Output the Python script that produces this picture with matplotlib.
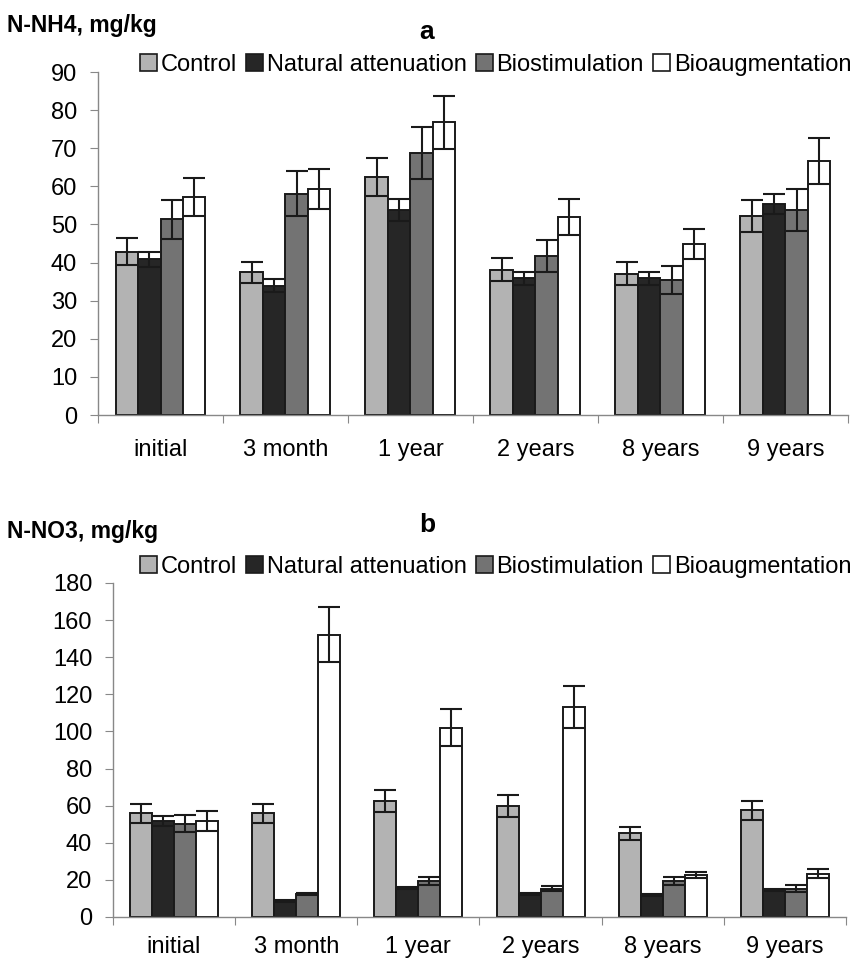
import matplotlib.pyplot as plt
import numpy as np
from matplotlib.patches import Patch

plt.rcParams['font.family'] = ['Liberation Sans', 'DejaVu Sans']

periods = ['initial', '3 month', '1 year', '2 years', '8 years', '9 years']
treatments = ['Control', 'Natural attenuation', 'Biostimulation', 'Bioaugmentation']
colors = ['#b3b3b3', '#262626', '#737373', '#ffffff']

# N-NH4 means and errors, one row per treatment
nh4 = [
    [42.9, 37.4, 62.4, 38.1, 37.1, 52.2],
    [40.9, 33.9, 53.8, 35.9, 35.9, 55.4],
    [51.4, 58.1, 68.8, 41.7, 35.4, 53.8],
    [57.3, 59.3, 76.8, 51.9, 44.8, 66.7],
]
nh4_err = [
    [3.5, 2.8, 5.0, 3.0, 3.0, 4.3],
    [2.0, 1.7, 2.8, 1.7, 1.7, 2.7],
    [5.1, 5.8, 6.8, 4.1, 3.6, 5.5],
    [5.0, 5.3, 7.0, 4.7, 3.9, 6.0],
]

# N-NO3 means and errors
no3 = [
    [55.8, 55.8, 62.5, 59.8, 45.1, 57.4],
    [51.7, 8.6, 15.6, 12.6, 11.8, 14.3],
    [50.3, 12.4, 19.4, 15.3, 19.4, 15.3],
    [51.7, 152.2, 101.9, 113.2, 22.6, 23.3],
]
no3_err = [
    [4.9, 4.9, 5.7, 5.7, 3.4, 5.2],
    [2.7, 0.5, 0.8, 0.5, 0.5, 0.5],
    [4.5, 0.7, 2.0, 1.3, 2.0, 1.7],
    [5.4, 15.0, 10.0, 11.3, 1.8, 2.5],
]

fig = plt.figure(figsize=(8.59, 9.64), dpi=100)


def draw_panel(rect, vals, errs, ymax, ystep, ylabel, letter, label_y, letter_y, leg_y, xpad):
    ax = fig.add_axes(rect)
    x = np.arange(len(periods))
    w = 0.18
    for i in range(len(treatments)):
        ax.bar(x + (i - 1.5) * w, vals[i], w, color=colors[i], edgecolor='#1a1a1a',
               linewidth=1.4, yerr=errs[i], capsize=8,
               error_kw=dict(ecolor='#1a1a1a', elinewidth=1.5, capthick=1.5))
    ax.set_xlim(-0.5, len(periods) - 0.5)
    ax.set_ylim(0, ymax)
    ax.set_yticks(np.arange(0, ymax + 1, ystep))
    ax.set_xticks(np.arange(-0.5, len(periods)))
    ax.set_xticklabels([])
    ax.set_xticks(x, minor=True)
    ax.set_xticklabels(periods, minor=True)
    ax.tick_params(axis='x', which='major', length=6, color='#888888', direction='out')
    ax.tick_params(axis='x', which='minor', length=0, pad=xpad, labelsize=17)
    ax.tick_params(axis='y', length=6, color='#888888', labelsize=17, pad=9)
    for s in ['top', 'right']:
        ax.spines[s].set_visible(False)
    for s in ['left', 'bottom']:
        ax.spines[s].set_color('#888888')
        ax.spines[s].set_linewidth(1.0)
    handles = [Patch(facecolor=c, edgecolor='#1a1a1a', linewidth=1.2) for c in colors]
    fig.legend(handles, treatments, loc='center', bbox_to_anchor=(0.577, leg_y),
               ncol=4, frameon=False, fontsize=17, handlelength=0.72, handleheight=0.72,
               handletextpad=0.15, columnspacing=0.4, borderaxespad=0, borderpad=0)
    fig.text(0.008, label_y, ylabel, fontsize=16.5, fontweight='bold', va='center')
    fig.text(0.497, letter_y, letter, fontsize=19, fontweight='bold', ha='center', va='center')
    return ax


draw_panel([0.1141, 0.5695, 0.873, 0.3558], nh4, nh4_err, 90, 10,
           'N-NH4, mg/kg', 'a', 0.974, 0.967, 0.933, 17)
draw_panel([0.1315, 0.0488, 0.8533, 0.3465], no3, no3_err, 180, 20,
           'N-NO3, mg/kg', 'b', 0.449, 0.455, 0.412, 14)

plt.savefig('out.png', dpi=100)
